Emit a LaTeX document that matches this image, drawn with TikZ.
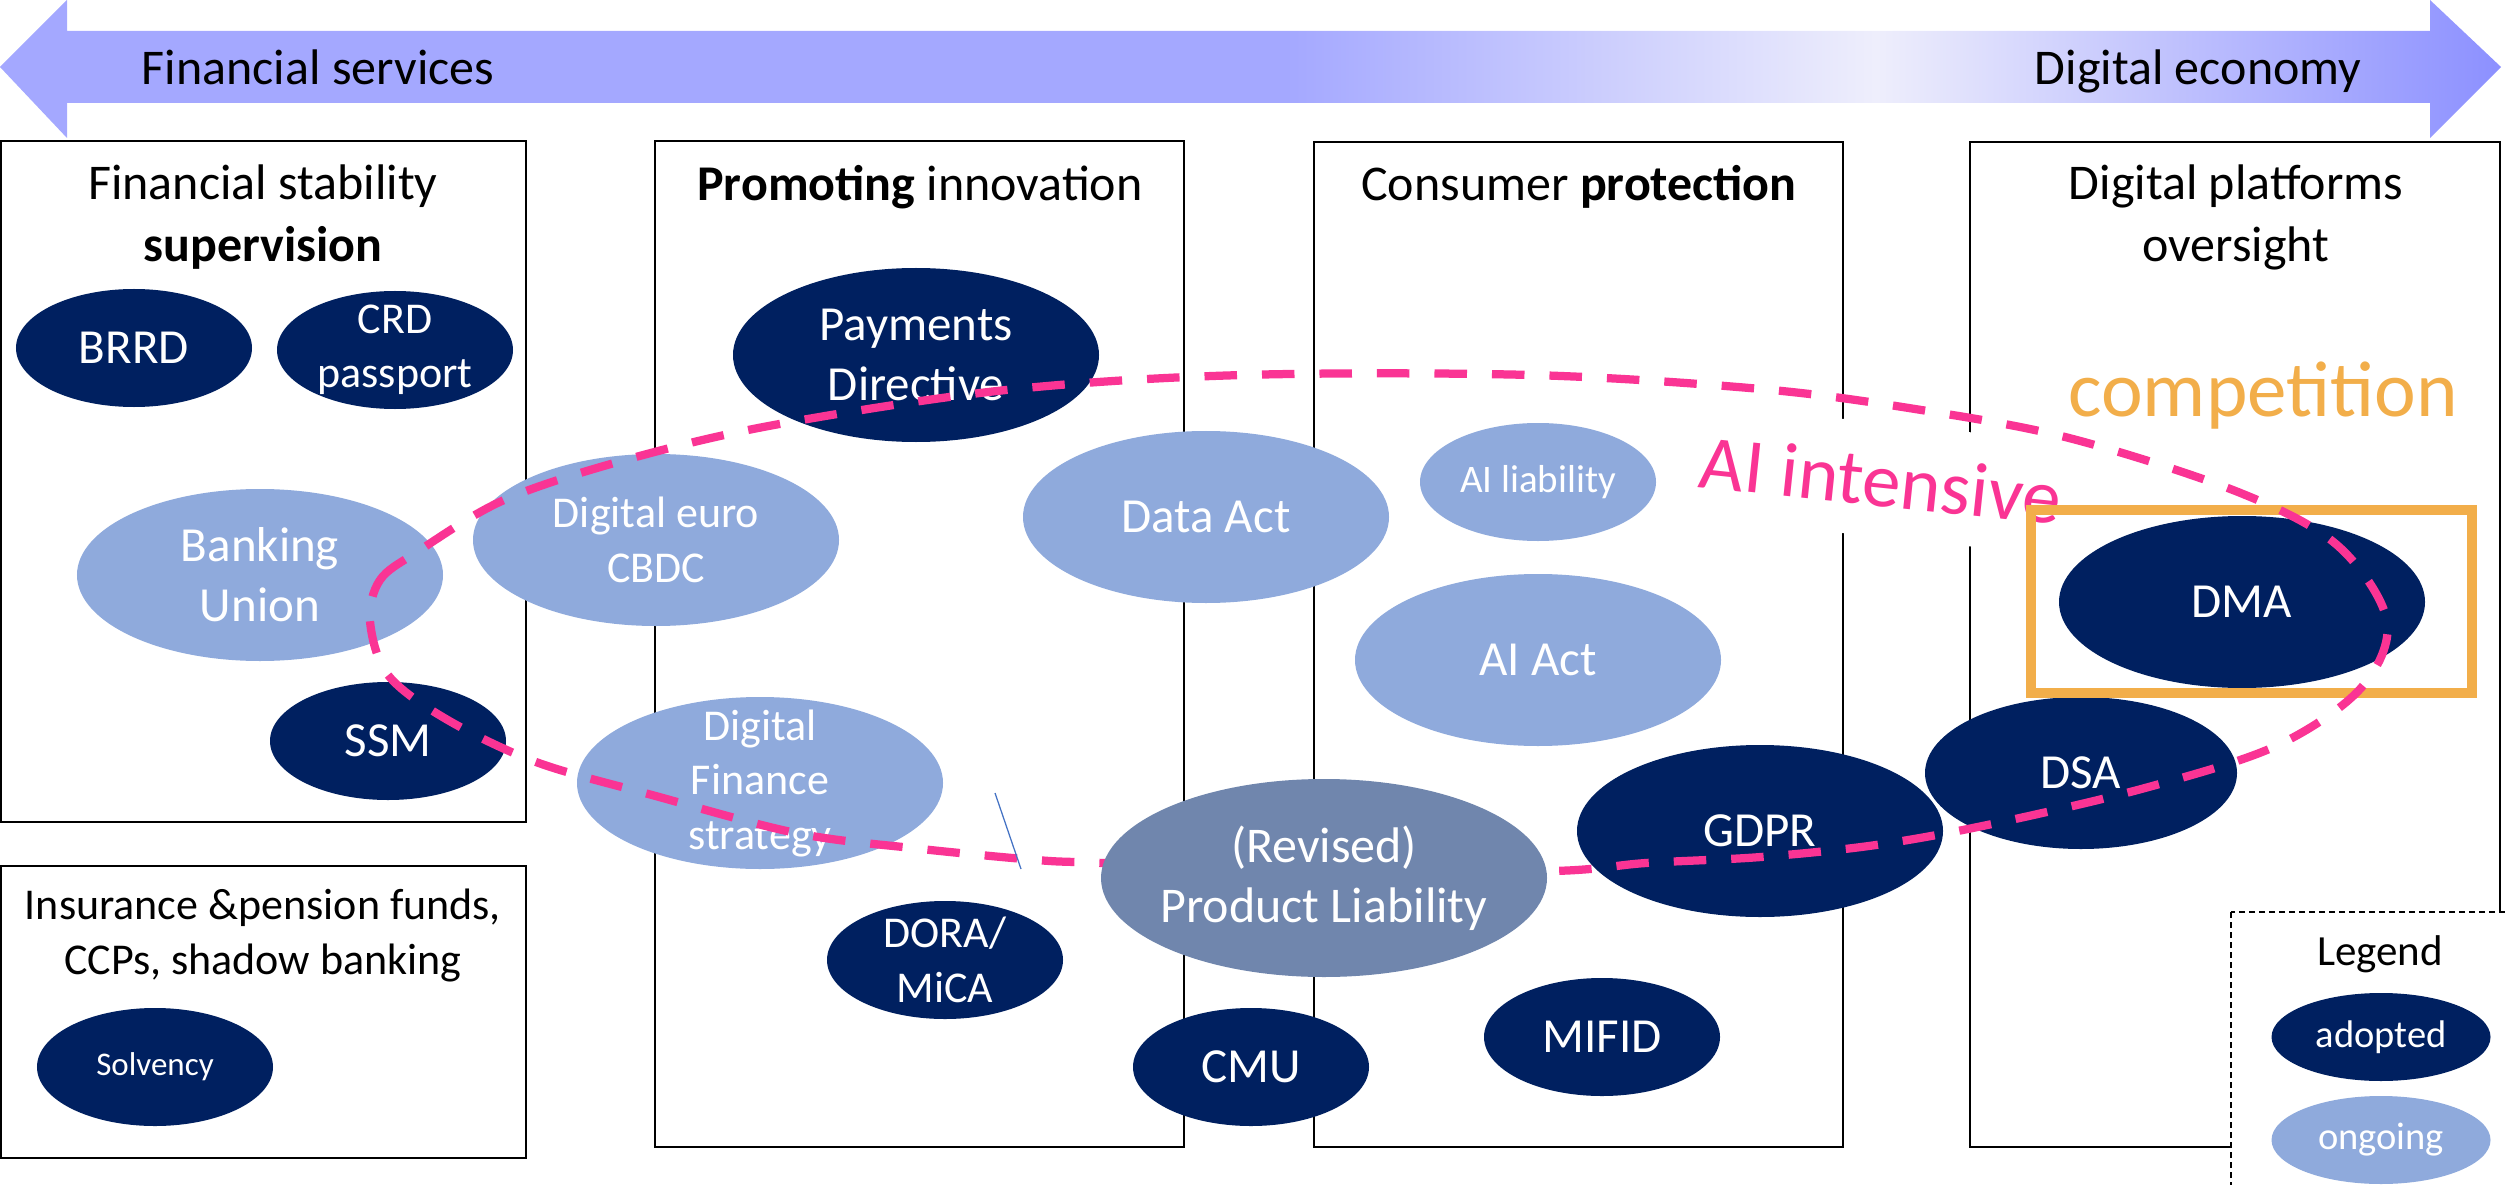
\documentclass[tikz,border=0pt]{standalone}
\usepackage{fontspec}
\setmainfont{Carlito}
\usetikzlibrary{shapes.geometric}

\definecolor{navy}{RGB}{0,32,96}
\definecolor{lightblue}{RGB}{143,170,220}
\definecolor{greyblue}{RGB}{112,134,173}
\definecolor{aipink}{RGB}{250,52,148}
\definecolor{comporange}{RGB}{242,174,74}
\definecolor{bandL}{RGB}{164,168,255}
\definecolor{bandW}{RGB}{238,238,252}
\definecolor{bandR}{RGB}{140,144,255}
\definecolor{strayblue}{RGB}{68,114,196}

\pgfdeclarehorizontalshading{bandshade}{100bp}{color(0bp)=(bandL); color(25bp)=(bandL); color(50.7bp)=(bandL); color(62.5bp)=(bandW); color(75bp)=(bandR); color(100bp)=(bandR)}

\newcommand{\fttl}{\fontsize{20}{24.8}\selectfont}
\newcommand{\fbig}{\fontsize{19.6}{24}\selectfont}
\newcommand{\fmid}{\fontsize{17.6}{21.8}\selectfont}
\newcommand{\fsml}{\fontsize{15.4}{18}\selectfont}

\tikzset{every picture/.style={line width=0.75pt},
  panel/.style={draw=black, line width=1pt, fill=white},
  ttl/.style={font=\fttl, align=center, inner sep=0pt, anchor=base},
  law/.style={ellipse, inner sep=-20pt, text=white, font=\fbig, align=center},
  adopted/.style={law, fill=navy},
  ongoing/.style={law, fill=lightblue},
  smallsz/.style={minimum width=94.4pt, minimum height=47.2pt},
  largesz/.style={minimum width=146.4pt, minimum height=68.8pt},
  aicurve/.style={draw=aipink, line width=3.3pt, dash pattern=on 13pt off 10pt},
}

\begin{document}
\begin{tikzpicture}[x=0.4pt,y=0.4pt,yscale=-1,xscale=1]
\useasboundingbox (0,0) rectangle (2505,1185);

%Shape: Left-Right Arrow
\path [shading=bandshade] (0,67) -- (67,0) -- (67,31) -- (2430,31) -- (2430,0) -- (2501,67) -- (2430,138) -- (2430,103) -- (67,103) -- (67,138) -- cycle ;
% Text Node
\node [ttl, anchor=base west] (fins) at (141,85) {Financial services};
% Text Node
\node [ttl, anchor=base west] (dige) at (2034,85) {Digital economy};

%Shape: Rectangle
\draw [panel] (1,141) rectangle (526,822) ;
\draw [panel] (655,141) rectangle (1184,1147) ;
\draw [panel] (1314,142) rectangle (1843,1147) ;
\draw [panel] (1970,142) rectangle (2500,1147) ;
\draw [panel] (1,866) rectangle (526,1158) ;
%Shape: Legend
\draw [panel, line width=0.8pt, dash pattern=on 2.4pt off 1.6pt] (2231,912) rectangle (2530,1210) ;

% Text Node (base = last line)
\node [ttl] (tstab) at (263,262) {Financial stability\\\textbf{supervision}};
\node [ttl] (tinno) at (920,201) {\textbf{Promoting} innovation};
\node [ttl] (tcons) at (1579,201) {Consumer \textbf{protection}};
\node [ttl] (tplat) at (2236,262) {Digital platforms\\oversight};
\node [ttl, font=\fmid] (tins) at (263,974) {Insurance \&pension funds,\\CCPs, shadow banking};
\node [ttl, font=\fontsize{17.2}{20}\selectfont] (tleg) at (2380,965) {Legend};

%Shape: Ellipse
\node [adopted, smallsz] (brrd) at (134,348) {BRRD};
\node [adopted, smallsz, font=\fmid] (crd) at (395,350) {CRD\\passport};
\node [ongoing, largesz] (bank) at (260,575) {Banking\\Union};
\node [adopted, smallsz] (ssm) at (388,741) {SSM};
\node [ongoing, largesz, font=\fmid] (deuro) at (656,540) {Digital euro\\CBDC};
\node [adopted, largesz, minimum height=69.6pt] (paym) at (916,355) {Payments\\Directive};
\node [ongoing, largesz] (data) at (1206,517) {Data Act};
\node [ongoing, largesz, font=\fmid] (dfin) at (760,783) {Digital\\Finance\\strategy};
\node [adopted, smallsz, font=\fmid] (dora) at (945,960) {DORA/\\MiCA};
\node [adopted, smallsz] (cmu) at (1251,1067) {CMU};
\node [adopted, largesz] (gdpr) at (1760,831) {GDPR};
\node [adopted, smallsz] (mifid) at (1602,1037) {MIFID};
\node [ongoing, smallsz, font=\fontsize{15.6}{18}\selectfont] (ailia) at (1538,482) {AI liability};
\node [ongoing, largesz] (aiact) at (1538,660) {AI Act};
\node [adopted, largesz] (dma) at (2242,602) {DMA};
\node [adopted, minimum width=124.8pt, minimum height=60.8pt] (dsa) at (2081,773) {DSA};
\node [adopted, smallsz, font=\fontsize{13.2}{16}\selectfont] (solv) at (155,1067) {Solvency};
\node [adopted, minimum width=87.6pt, minimum height=35.2pt, font=\fsml] (ladopt) at (2381,1037) {adopted};
\node [ongoing, minimum width=87.6pt, minimum height=35.2pt, font=\fsml] (longo) at (2381,1140) {ongoing};

% Text Node
\node [ttl, font=\fontsize{30.8}{34}\selectfont, text=aipink, fill=white, rotate=-6, inner xsep=4pt, inner ysep=12pt] (aiint) at (1878,506) {AI intensive};
% Text Node
\node [ttl, font=\fontsize{31.6}{36}\selectfont, text=comporange] (comp) at (2263,416) {competition};
%Shape: Rectangle
\draw [draw=comporange, line width=4pt] (2031,510) rectangle (2472,693) ;

%Curve Lines
\draw [aicurve] plot [smooth cycle, tension=0.55] coordinates {(370,621) (380,580) (417,552) (504,500) (625,460) (774,425) (1006,390) (1243,375) (1531,375) (1761,389) (1915,409) (2069,438) (2238,492) (2337,545) (2387,621) (2361,688) (2276,746) (2145,788) (1992,824) (1876,845) (1761,857) (1646,863) (1554,871) (1330,872) (1103,863) (1036,860) (912,848) (796,833) (652,795) (536,762) (446,719) (388,675)} ;

%Shape: Ellipse
\node [law, fill=greyblue, minimum width=178.4pt, minimum height=79.2pt, font=\fontsize{20}{24}\selectfont] (prod) at (1324,878) {(Revised)\\Product Liability};

%Straight Lines
\draw [draw=strayblue, line width=0.5pt] (995,793) -- (1021,869) ;

\end{tikzpicture}
\end{document}
